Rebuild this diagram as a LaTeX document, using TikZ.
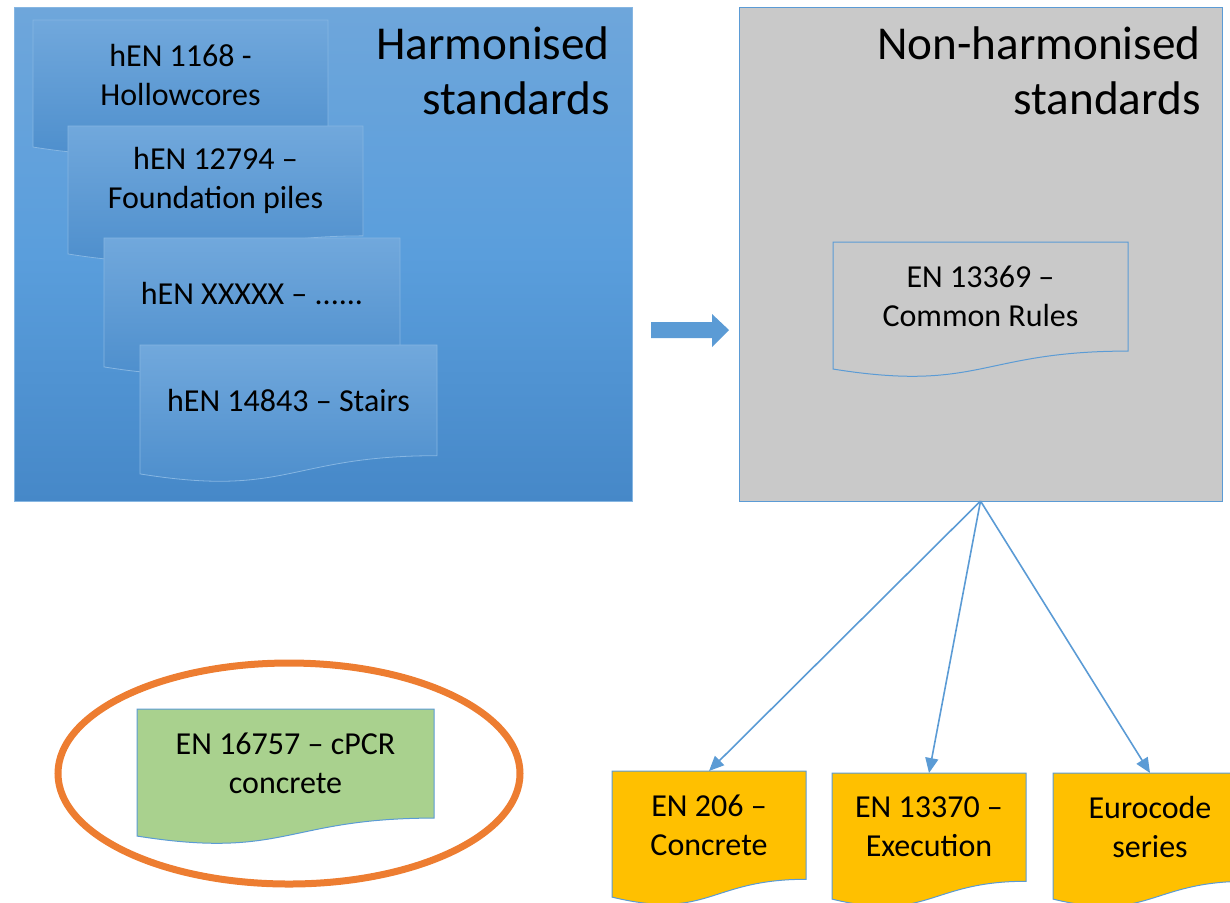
\documentclass[tikz,border=0pt]{standalone}
\usepackage{fontspec}
\setmainfont{Carlito}
\usetikzlibrary{arrows.meta,shapes.geometric}
\definecolor{edgeblue}{HTML}{5B9BD5}
\definecolor{bluetop}{HTML}{6EA6DB}
\definecolor{bluemid}{HTML}{5A9EDC}
\definecolor{bluebot}{HTML}{4688C8}
\definecolor{doctop}{HTML}{71A8DC}
\definecolor{docbot}{HTML}{4A8CCB}
\definecolor{docedge}{HTML}{86B6E2}
\definecolor{greyfill}{HTML}{C9C9C9}
\definecolor{orangefill}{HTML}{FFC000}
\definecolor{greenfill}{HTML}{A9D18E}
\definecolor{ringorange}{HTML}{ED7D31}
\tikzset{
  docbox/.style={inner sep=0pt, outer sep=0pt, align=center, font=\fontsize{16pt}{19.5pt}\selectfont},
  bluedoc/.style={top color=doctop, bottom color=docbot, draw=docedge, line width=0.4pt},
  greydoc/.style={fill=greyfill, draw=edgeblue, line width=0.5pt},
  orangedoc/.style={fill=orangefill, draw=edgeblue, line width=0.5pt},
  greendoc/.style={fill=greenfill, draw=edgeblue, line width=0.5pt},
  title/.style={align=right, anchor=north east, inner sep=0pt, font=\fontsize{23.6pt}{27.5pt}\selectfont},
  conn/.style={draw=edgeblue, line width=0.8pt, -{Triangle[length=7.5pt,width=6.5pt]}}
}
% #1 name, #2 x, #3 y (top), #4 width, #5 height, #6 style, #7 text
\newcommand\docnode[7]{%
  \path[#6] (#2,#3) -- ({#2+#4},#3) -- ({#2+#4},{#3+0.802*#5})
    .. controls ({#2+0.5*#4},{#3+0.802*#5}) and ({#2+0.5*#4},{#3+1.1075*#5}) .. (#2,{#3+0.934*#5}) -- cycle;
  \node[docbox, minimum width={#4*0.5pt}, minimum height={#5*0.401pt}, anchor=north west] (#1) at (#2,#3) {#7};
}
\begin{document}
\begin{tikzpicture}[x=0.5pt,y=-0.5pt]
\useasboundingbox (0,0) rectangle (1230,902);
\clip (0,0) rectangle (1230,902);
% big panels
\node[anchor=north west, minimum width=309pt, minimum height=247pt, inner sep=0pt, outer sep=0pt,
      top color=bluetop, bottom color=bluebot, middle color=bluemid, draw=docedge, line width=0.5pt] (harm) at (14,7) {};
\node[anchor=north west, minimum width=241.5pt, minimum height=247pt, inner sep=0pt, outer sep=0pt,
      fill=greyfill, draw=edgeblue, line width=0.5pt] (nh) at (739,7) {};
\node[title] (harmtitle) at (610,26) {Harmonised\\standards};
\node[title] (nhtitle) at (1201,26) {Non-harmonised\\standards};
% harmonised documents
\docnode{d1}{33}{20}{295}{136}{bluedoc}{hEN 1168 -\\Hollowcores}
\docnode{d2}{68}{126}{295}{137}{bluedoc}{hEN 12794 –\\Foundation piles}
\docnode{d3}{104}{238}{296}{138}{bluedoc}{hEN XXXXX – ......}
\docnode{d4}{140}{345}{297}{138}{bluedoc}{hEN 14843 – Stairs}
% common rules
\docnode{cr}{833}{242}{295}{136}{greydoc}{EN 13369 –\\Common Rules}
% block arrow
\coordinate (ba) at (651,322);
\fill[edgeblue] (ba) -- (712,322) -- (712,314) -- (729,330) -- (712,347) -- (712,338) -- (651,338) -- cycle;
% lower documents
\docnode{o1}{612}{771}{194}{135}{orangedoc}{EN 206 –\\Concrete}
\docnode{o2}{832}{773}{194}{135}{orangedoc}{EN 13370 –\\Execution}
\docnode{o3}{1053}{773}{194}{135}{orangedoc}{Eurocode\\series}
\draw[conn] (nh.south) -- (o1.north);
\draw[conn] (nh.south) -- (o2.north);
\draw[conn] (nh.south) -- (o3.north);
% cPCR
\docnode{g}{137}{709}{297}{136}{greendoc}{EN 16757 – cPCR\\concrete}
\node[ellipse, draw=ringorange, line width=3.5pt, minimum width=231pt, minimum height=110.5pt, inner sep=0pt] (ring) at (289,773.5) {};
\end{tikzpicture}
\end{document}
